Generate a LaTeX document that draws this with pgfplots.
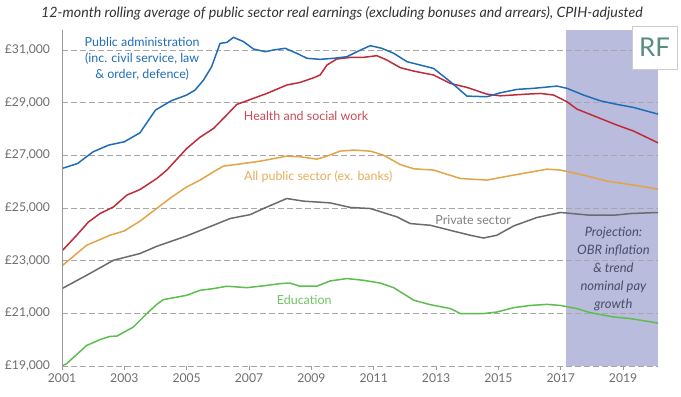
\documentclass[border=0pt]{standalone}
\usepackage{fontspec}
\setmainfont{Lato}
\usepackage{pgfplots}
\pgfplotsset{compat=1.18}
\definecolor{cblue}{HTML}{1F6DB6}
\definecolor{cred}{HTML}{BE2B3A}
\definecolor{corange}{HTML}{E3A347}
\definecolor{cgray}{HTML}{6B6B6E}
\definecolor{cgreen}{HTML}{5DBE4F}
\definecolor{shade}{HTML}{B9BCDC}
\definecolor{tickgray}{HTML}{6E6E6E}
\definecolor{rfgreen}{HTML}{5A8C82}
\definecolor{projtext}{HTML}{4A4D66}
\begin{document}
\begin{tikzpicture}
\begin{axis}[
  at={(0,0)}, anchor=south west,
  scale only axis, width=596bp, height=336bp,
  xmin=2001, xmax=2020.12, ymin=19000, ymax=31760,
  set layers,
  scaled y ticks=false, scaled x ticks=false,
  axis line style={draw=none},
  xtick={2001,2003,...,2019},
  xticklabels={2001,2003,2005,2007,2009,2011,2013,2015,2017,2019},
  ytick={19000,21000,...,31000},
  yticklabels={{£19,000},{£21,000},{£23,000},{£25,000},{£27,000},{£29,000},{£31,000}},
  xtick pos=bottom, tick align=outside,
  major tick length=3.5bp,
  x tick style={tickgray!70, line width=0.7pt},
  y tick style={draw=none},
  ymajorgrids,
  grid style={dash pattern=on 5.5bp off 3.5bp, line width=0.9pt, gray!70},
  tick label style={font=\fontsize{12.2}{14}\selectfont, text=tickgray},
  yticklabel style={xshift=-5bp},
  xticklabel style={yshift=-1bp},
]
\addplot[fill=shade, draw=none, on layer=axis background] coordinates {(2017.17,19000) (2017.17,31760) (2020.12,31760) (2020.12,19000)} -- cycle;

\addplot[cgreen, line width=1.5bp, line join=round] table {
x y
2001.0 19000
2001.15 19090
2001.79 19780
2002.22 20000
2002.54 20125
2002.76 20135
2003.29 20480
2003.72 20990
2004.04 21340
2004.25 21520
2005.0 21685
2005.43 21875
2005.86 21940
2006.29 22030
2006.93 21975
2007.5 22050
2008.0 22130
2008.3 22150
2008.64 22030
2009.18 22030
2009.6 22230
2010.14 22320
2010.67 22255
2011.21 22150
2011.64 21975
2012.28 21500
2012.81 21330
2013.46 21180
2013.78 20990
2014.52 20990
2014.95 21050
2015.49 21215
2016.02 21300
2016.56 21340
2016.99 21300
2017.52 21180
2017.95 21025
2018.7 20860
2019.24 20800
2020.12 20630
};

\addplot[cgray, line width=1.5bp, line join=round] table {
x y
2001.0 21940
2001.79 22445
2002.65 23015
2003.5 23270
2004.04 23545
2005.0 23940
2005.86 24345
2006.39 24600
2007.04 24750
2007.46 24980
2008.21 25360
2008.75 25260
2009.6 25195
2010.25 25020
2010.89 24980
2011.74 24665
2012.17 24410
2012.81 24345
2013.67 24090
2014.1 23965
2014.52 23860
2014.95 23965
2015.49 24320
2016.24 24640
2016.99 24830
2017.95 24725
2018.7 24725
2019.24 24790
2020.12 24830
};

\addplot[corange, line width=1.5bp, line join=round] table {
x y
2001.0 22800
2001.79 23585
2002.54 23965
2003.0 24130
2003.5 24500
2004.04 24985
2004.5 25400
2005.0 25800
2005.43 26060
2005.86 26375
2006.18 26590
2006.82 26690
2007.36 26780
2008.21 26970
2008.64 26945
2009.18 26855
2009.5 26970
2009.92 27160
2010.35 27200
2010.89 27160
2011.31 27010
2011.85 26650
2012.28 26490
2012.92 26440
2013.78 26120
2014.63 26060
2015.49 26250
2016.56 26475
2016.99 26440
2017.73 26250
2018.49 26020
2019.34 25870
2020.12 25715
};

\addplot[cred, line width=1.5bp, line join=round] table {
x y
2001.0 23370
2001.47 23965
2001.85 24470
2002.22 24790
2002.65 25040
2003.08 25490
2003.5 25700
2004.04 26120
2004.36 26435
2005.0 27260
2005.43 27690
2005.86 28020
2006.29 28540
2006.61 28935
2007.04 29120
2007.57 29350
2008.21 29670
2008.64 29770
2009.07 29945
2009.28 30050
2009.5 30430
2009.82 30660
2010.25 30720
2010.67 30720
2011.1 30785
2011.42 30620
2011.85 30330
2012.28 30200
2012.92 30050
2013.46 29730
2013.99 29580
2014.63 29325
2015.06 29260
2015.92 29325
2016.35 29350
2016.77 29290
2017.2 29035
2017.52 28755
2018.27 28400
2018.8 28150
2019.34 27920
2020.12 27475
};

\addplot[cblue, line width=1.5bp, line join=round] table {
x y
2001.0 26500
2001.5 26690
2002.0 27135
2002.5 27390
2003.0 27515
2003.5 27855
2004.0 28720
2004.5 29070
2005.0 29290
2005.27 29480
2005.54 29860
2005.8 30365
2006.07 31250
2006.29 31290
2006.5 31480
2006.82 31320
2007.14 31040
2007.52 30935
2007.78 31000
2008.16 31065
2008.53 30875
2008.86 30685
2009.28 30645
2009.71 30685
2010.14 30745
2010.46 30935
2010.89 31165
2011.26 31065
2011.64 30875
2012.07 30555
2012.49 30430
2012.92 30300
2013.46 29795
2013.99 29250
2014.63 29225
2015.06 29375
2015.6 29505
2016.13 29545
2016.88 29630
2017.2 29545
2017.73 29290
2018.27 29070
2018.8 28935
2019.33 28820
2020.12 28565
};

\draw[tickgray!70, line width=0.8pt] (rel axis cs:0,0) -- (rel axis cs:0,1);

\begin{scope}[every node/.style={font=\fontsize{12.5}{16}\selectfont}]
\node[cblue, align=center] at (axis cs:2003.57,30658) {Public administration\\(inc. civil service, law\\\& order, defence)};
\node[cred!85!white] at (axis cs:2008.83,28502) {Health and social work};
\node[corange!90!white] at (axis cs:2009.22,26183) {All public sector (ex. banks)};
\node[cgray!85!white] at (axis cs:2014.19,24563) {Private sector};
\node[cgreen!90!white] at (axis cs:2008.77,21521) {Education};
\node[align=center, text=projtext, font=\fontsize{13}{18}\selectfont\itshape] at (axis cs:2018.69,22673) {Projection:\\OBR inflation\\\& trend\\nominal pay\\growth};
\end{scope}
\end{axis}
\node[draw=gray!40, fill=white, line width=0.8pt, minimum width=45bp, minimum height=43bp, inner sep=0pt, text=rfgreen, font=\fontsize{26}{26}\selectfont] at (592.5bp,318.5bp) {RF};
\node[font=\fontsize{14.3}{16}\selectfont\itshape, text=black!80] at (280bp,353bp) {12-month rolling average of public sector real earnings (excluding bonuses and arrears), CPIH-adjusted};
\path (-62bp,-31bp) rectangle (619bp,366bp);
\end{tikzpicture}
\end{document}
